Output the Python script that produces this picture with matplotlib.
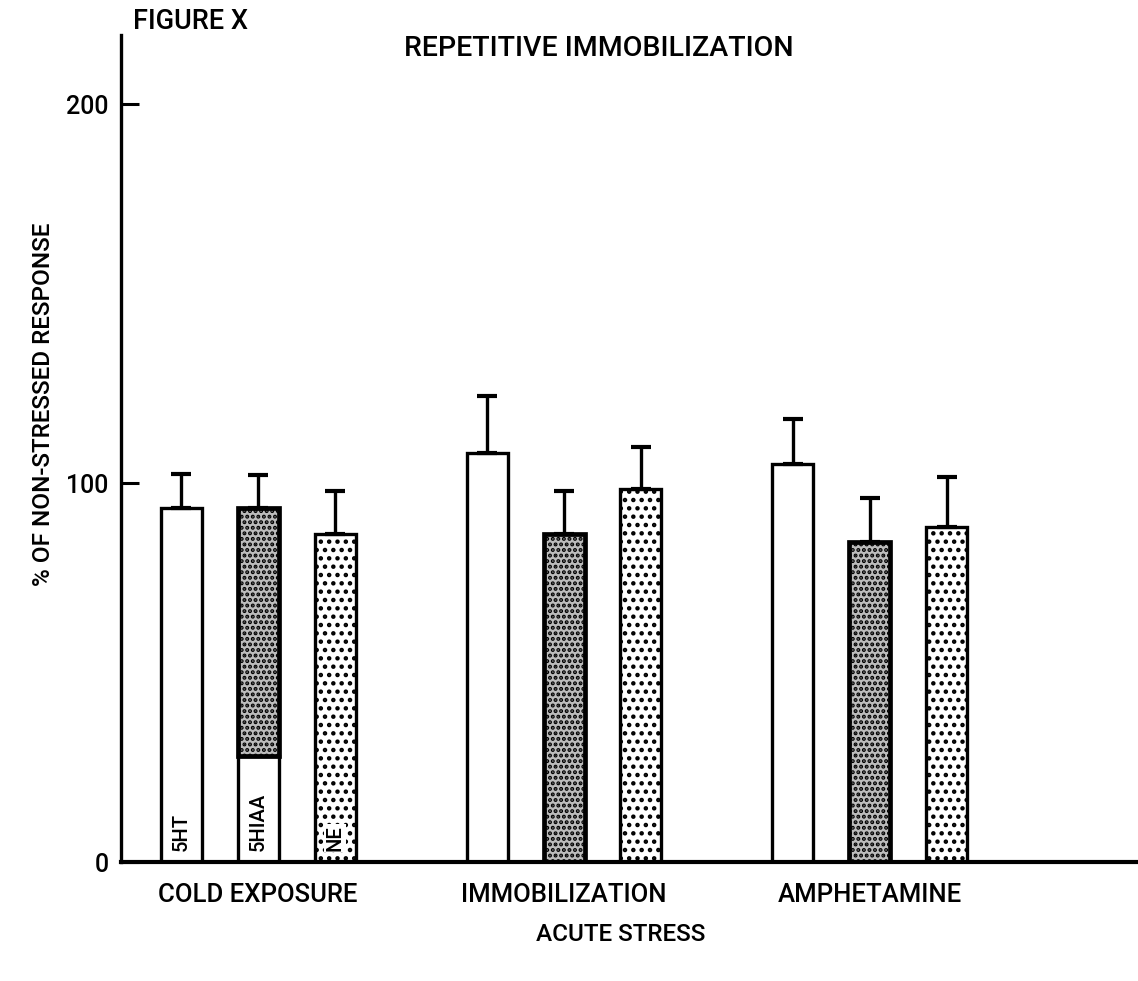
import matplotlib
matplotlib.use("Agg")
import matplotlib.pyplot as plt
import numpy as np

# Data: percent of non-stressed response, repetitive immobilization
groups = ["COLD EXPOSURE", "IMMOBILIZATION", "AMPHETAMINE"]
series = ["5HT", "5HIAA", "NE"]
val_5ht = [93.5, 108.0, 105.0]
err_5ht = [9.0, 15.0, 12.0]
val_5hiaa = [93.5, 86.5, 84.5]
err_5hiaa = [8.5, 11.5, 11.5]
val_ne = [86.5, 98.5, 88.5]
err_ne = [11.5, 11.0, 13.0]
label_band = 28.0  # unshaded strip holding the series name in the first group
yticks = [0, 100, 200]

plt.rcParams["font.family"] = ["Roboto", "DejaVu Sans"]
plt.rcParams["font.weight"] = "medium"
plt.rcParams["axes.labelweight"] = "medium"
plt.rcParams["hatch.linewidth"] = 2.0

fig = plt.figure(figsize=(11.38, 9.81), dpi=100)
ax = fig.add_axes([0.1063, 0.1213, 0.8937, 0.843])

x = np.arange(len(groups))
offset = 0.2516
width = 0.134
styles = [
    dict(facecolor="white", hatch=None, linewidth=2.4),
    dict(facecolor="#bcbcbc", hatch="...", linewidth=3.4),
    dict(facecolor="white", hatch="..", linewidth=2.4),
]
values = [val_5ht, val_5hiaa, val_ne]
errors = [err_5ht, err_5hiaa, err_ne]

for i, (vals, errs, st) in enumerate(zip(values, errors, styles)):
    xs = x + (i - 1) * offset
    if i == 1:
        # first group keeps a white strip at the bottom for its name
        bottoms = [label_band, 0, 0]
        heights = [v - b for v, b in zip(vals, bottoms)]
        ax.bar(xs[0], label_band, width=width, facecolor="white",
               edgecolor="black", linewidth=2.4, zorder=2)
        ax.bar(xs, heights, bottom=bottoms, width=width, edgecolor="black",
               zorder=2, **st)
    else:
        ax.bar(xs, vals, width=width, edgecolor="black", zorder=2, **st)
    ax.errorbar(xs, vals, yerr=[np.zeros(len(vals)), errs], fmt="none",
                ecolor="black", elinewidth=2.4, capsize=7, capthick=3,
                zorder=3)

# series names written inside the first group's bars
for i, name in enumerate(series):
    bbox = dict(facecolor="white", edgecolor="none", pad=0.8) if i == 2 else None
    ax.text(x[0] + (i - 1) * offset, 3, name, rotation=90, ha="center",
            va="bottom", fontsize=14.5, zorder=4, bbox=bbox)

ax.set_xlim(-0.448, 2.876)
ax.set_ylim(0, 218.2)
ax.set_yticks(yticks)
ax.set_yticklabels([str(t) for t in yticks], fontsize=18)
ax.tick_params(axis="y", direction="in", length=13, width=2.2, pad=9)
ax.set_xticks(x)
ax.set_xticklabels(groups, fontsize=18.5)
ax.tick_params(axis="x", length=0, pad=15)

for side in ["top", "right"]:
    ax.spines[side].set_visible(False)
ax.spines["left"].set_linewidth(2.4)
ax.spines["bottom"].set_linewidth(3)

ax.set_ylabel("% OF NON-STRESSED RESPONSE", fontsize=17.5)
ax.yaxis.set_label_coords(-0.065, 0.554)
ax.set_xlabel("ACUTE STRESS", fontsize=17.5)
ax.xaxis.set_label_coords(0.4917, -0.074)

fig.text(0.117, 0.9776, "FIGURE X", fontsize=19.5, va="center", ha="left")
fig.text(0.355, 0.951, "REPETITIVE IMMOBILIZATION", fontsize=20.5,
         va="center", ha="left")

fig.savefig("out.png", dpi=100, facecolor="white")
